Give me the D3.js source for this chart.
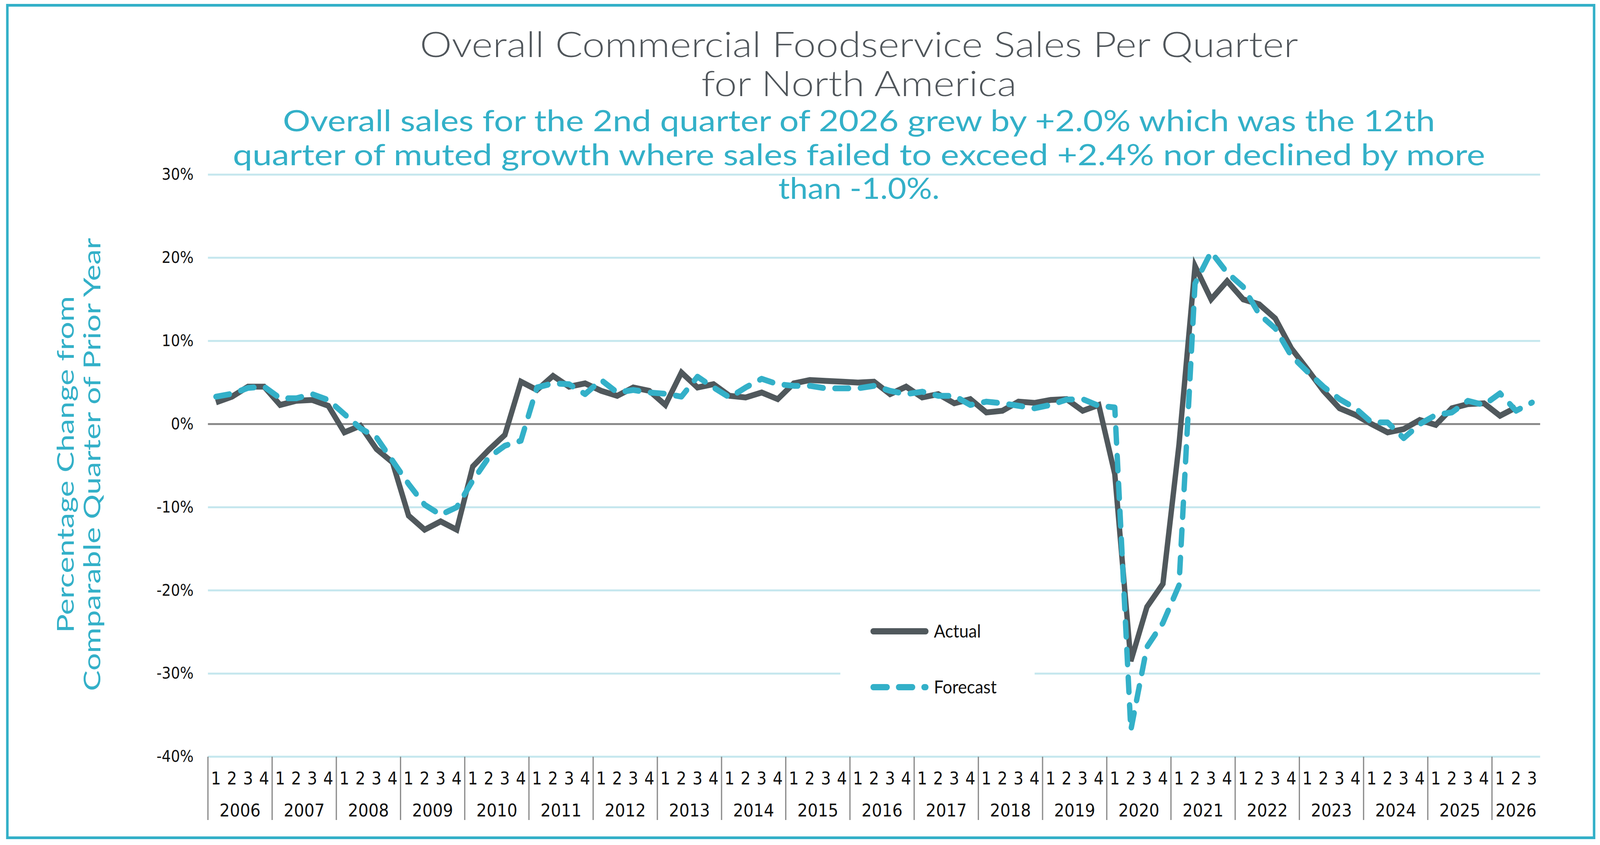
<!DOCTYPE html>
<html>
<head>
<meta charset="utf-8">
<script src="https://cdn.jsdelivr.net/npm/d3@7/dist/d3.min.js"></script>
<style>
  html, body { margin: 0; padding: 0; overflow: hidden; background: #fff; }
  #wrapper { width: 100vw; height: 100vh; }
  svg { display: block; width: 100%; height: 100%; }
</style>
</head>
<body>
<div id="wrapper"></div>
<script>
// Data (% change vs same quarter of prior year)

const years = ["2006", "2007", "2008", "2009", "2010", "2011", "2012", "2013",
  "2014", "2015", "2016", "2017", "2018", "2019", "2020", "2021", "2022",
  "2023", "2024", "2025", "2026"];
const quarterNames = ["1", "2", "3", "4"];
const lastYearQuarters = 3; // 2026 only shows Q1-Q3

const actual = [
  2.6, 3.3, 4.5, 4.5,      // 2006
  2.3, 2.8, 2.9, 2.2,      // 2007
  -1.0, -0.2, -3.0, -4.6,  // 2008
  -11.0, -12.7, -11.7, -12.7, // 2009
  -5.1, -3.1, -1.3, 5.1,   // 2010
  4.1, 5.8, 4.5, 4.9,      // 2011
  4.0, 3.4, 4.4, 4.0,      // 2012
  2.3, 6.2, 4.4, 4.8,      // 2013
  3.4, 3.2, 3.8, 3.0,      // 2014
  4.9, 5.3, 5.2, 5.1,      // 2015
  5.0, 5.1, 3.6, 4.5,      // 2016
  3.2, 3.6, 2.5, 3.0,      // 2017
  1.4, 1.6, 2.7, 2.55,     // 2018
  2.9, 3.0, 1.6, 2.3,      // 2019
  -6.0, -28.5, -22.0, -19.2, // 2020
  -2.5, 19.0, 15.0, 17.2,  // 2021
  15.0, 14.4, 12.7, 9.1,   // 2022
  6.6, 4.0, 1.9, 1.1,      // 2023
  0.0, -1.0, -0.6, 0.5,    // 2024
  -0.1, 1.9, 2.4, 2.5,     // 2025
  1.0, 2.0                 // 2026
];

const forecast = [
  3.3, 3.65, 4.35, 4.5,
  3.1, 3.1, 3.6, 2.9,
  1.2, -0.5, -1.6, -4.4,
  -7.2, -9.7, -10.9, -10.0,
  -6.8, -4.0, -2.6, -2.0,
  4.4, 4.9, 4.8, 3.6,
  5.3, 3.8, 4.1, 3.8,
  3.65, 3.3, 5.7, 4.4,
  3.2, 4.4, 5.45, 4.8,
  4.6, 4.6, 4.3, 4.3,
  4.3, 4.6, 4.0, 3.6,
  3.9, 3.4, 3.4, 2.3,
  2.7, 2.5, 2.2, 1.9,
  2.3, 2.95, 3.0, 2.2,
  2.0, -36.8, -26.8, -23.9,
  -19.4, 16.9, 20.7, 18.2,
  16.5, 13.2, 11.5, 8.2,
  6.3, 4.5, 3.0, 1.9,
  0.2, 0.2, -1.7, 0.0,
  1.1, 1.4, 2.8, 2.3,
  3.7, 1.6, 2.6
];

const yTicks = [30, 20, 10, 0, -10, -20, -30, -40];
const seriesNames = ["Actual", "Forecast"];

const titleLines = [
  "Overall Commercial Foodservice Sales Per Quarter",
  "for North America",
];
const subtitleLines = [
  "Overall sales for the 2nd quarter of 2026 grew by +2.0% which was the 12th",
  "quarter of muted growth where sales failed to exceed +2.4% nor declined by more",
  "than -1.0%.",
];
const yTitleLines = [
  "Percentage Change from",
  "Comparable Quarter of Prior Year",
];

function drawChart() {

  // 1. Categories

  const categories = years.flatMap((year, i) =>
    quarterNames
      .slice(0, i === years.length - 1 ? lastYearQuarters : quarterNames.length)
      .map(q => ({ year, q, key: `${year}-${q}` })));

  // 2. Dimensions (drawn in reference pixels, stretched to the window)

  const dimensions = {
    width: 4463,
    height: 2163,
    margin: { top: 447, right: 167, bottom: 226, left: 580 },
  };
  dimensions.boundedWidth = dimensions.width
    - dimensions.margin.left - dimensions.margin.right;
  dimensions.boundedHeight = dimensions.height
    - dimensions.margin.top - dimensions.margin.bottom;

  const textFont = "Lato, 'Open Sans', sans-serif";
  const numberFont = "'DejaVu Sans', sans-serif";
  const grey = "#50585c";
  const teal = "#33b0c8";

  // 3. Canvas

  const wrapper = d3.select("#wrapper")
    .append("svg")
      .attr("viewBox", `0 0 ${dimensions.width} ${dimensions.height}`)
      .attr("preserveAspectRatio", "none")
      .style("background", "#fff");

  const bounds = wrapper.append("g")
      .attr("transform", `translate(${dimensions.margin.left}, ${dimensions.margin.top})`);

  // 4. Scales

  const xScale = d3.scaleBand()
      .domain(categories.map(d => d.key))
      .range([0, dimensions.boundedWidth]);
  const xCenter = key => xScale(key) + xScale.bandwidth() / 2;

  const yScale = d3.scaleLinear()
      .domain([-40, 30])
      .range([dimensions.boundedHeight, 0]);

  // 5. Peripherals behind the data

  bounds.append("g")
    .selectAll("line")
    .data(yTicks)
    .join("line")
      .attr("x1", 0)
      .attr("x2", dimensions.boundedWidth)
      .attr("y1", d => yScale(d))
      .attr("y2", d => yScale(d))
      .attr("stroke", d => d === 0 ? "#8a8a8a" : "#c5e7ee")
      .attr("stroke-width", 5);

  const yAxis = bounds.append("g")
      .call(d3.axisLeft(yScale)
        .tickValues(yTicks)
        .tickFormat(d => `${d}%`)
        .tickSize(0)
        .tickPadding(40));
  yAxis.select(".domain").remove();
  yAxis.selectAll("text")
      .attr("fill", "#111")
      .style("font-family", numberFont)
      .style("font-size", "40px");

  // year separators and the two label rows
  const xAxis = bounds.append("g")
      .attr("transform", `translate(0, ${dimensions.boundedHeight})`);

  xAxis.selectAll(".year-tick")
    .data(years)
    .join("line")
      .attr("class", "year-tick")
      .attr("x1", d => xScale(`${d}-1`))
      .attr("x2", d => xScale(`${d}-1`))
      .attr("y1", 0)
      .attr("y2", 162)
      .attr("stroke", "#8c8c8c")
      .attr("stroke-width", 3.5);

  xAxis.selectAll(".quarter-label")
    .data(categories)
    .join("text")
      .attr("class", "quarter-label")
      .attr("x", d => xCenter(d.key))
      .attr("y", 71)
      .attr("text-anchor", "middle")
      .attr("fill", "#111")
      .style("font-family", numberFont)
      .style("font-size", "44px")
      .text(d => d.q);

  xAxis.selectAll(".year-label")
    .data(years)
    .join("text")
      .attr("class", "year-label")
      .attr("x", d => {
        const keys = categories.filter(c => c.year === d).map(c => c.key);
        return (xCenter(keys[0]) + xCenter(keys[keys.length - 1])) / 2;
      })
      .attr("y", 153)
      .attr("text-anchor", "middle")
      .attr("fill", "#111")
      .style("font-family", numberFont)
      .style("font-size", "45px")
      .text(d => d);

  // legend sits on a white card that hides the -30% gridline
  const legend = wrapper.append("g");
  legend.append("rect")
      .attr("x", 2344)
      .attr("y", 1545)
      .attr("width", 542)
      .attr("height", 285)
      .attr("fill", "#fff");

  // 6. Data

  const lineGenerator = d3.line()
      .defined(d => d != null)
      .x((d, i) => xCenter(categories[i].key))
      .y(d => yScale(d));

  bounds.append("path")
      .attr("d", lineGenerator(actual))
      .attr("fill", "none")
      .attr("stroke", grey)
      .attr("stroke-width", 15)
      .attr("stroke-linejoin", "miter");

  bounds.append("path")
      .attr("d", lineGenerator(forecast))
      .attr("fill", "none")
      .attr("stroke", teal)
      .attr("stroke-width", 15)
      .attr("stroke-linecap", "round")
      .attr("stroke-linejoin", "round")
      .attr("stroke-dasharray", "38,33");

  // legend entries
  const legendRows = [
    { name: seriesNames[0], y: 1616, color: grey, dash: null },
    { name: seriesNames[1], y: 1759, color: teal, dash: "38,33" },
  ];
  legendRows.forEach(row => {
    legend.append("line")
        .attr("x1", 2436)
        .attr("x2", 2582)
        .attr("y1", row.y)
        .attr("y2", row.y)
        .attr("stroke", row.color)
        .attr("stroke-width", 16)
        .attr("stroke-linecap", "round")
        .attr("stroke-dasharray", row.dash);
    legend.append("text")
        .attr("x", 2605)
        .attr("y", row.y + 16)
        .attr("fill", "#111")
        .style("font-family", textFont)
        .style("font-size", "47px")
        .text(row.name);
  });

  // 7. Titles

  const titleWidths = [2450, 880];
  const titleBaselines = [146, 246];
  titleLines.forEach((line, i) => {
    wrapper.append("text")
        .attr("x", 2396)
        .attr("y", titleBaselines[i])
        .attr("text-anchor", "middle")
        .attr("textLength", titleWidths[i])
        .attr("lengthAdjust", "spacingAndGlyphs")
        .attr("fill", "#50565b")
        .style("font-family", textFont)
        .style("font-weight", 300)
        .style("font-size", "90px")
        .text(line);
  });

  const subtitleWidths = [3214, 3493, 450];
  const subtitleBaselines = [336, 423, 509];
  subtitleLines.forEach((line, i) => {
    wrapper.append("text")
        .attr("x", 2396)
        .attr("y", subtitleBaselines[i])
        .attr("text-anchor", "middle")
        .attr("textLength", subtitleWidths[i])
        .attr("lengthAdjust", "spacingAndGlyphs")
        .attr("fill", teal)
        .style("font-family", textFont)
        .style("font-size", "76px")
        .text(line);
  });

  const yTitleX = [206, 280];
  const yTitleWidths = [862, 1160];
  yTitleLines.forEach((line, i) => {
    wrapper.append("text")
        .attr("transform", `translate(${yTitleX[i]}, 1189) rotate(-90)`)
        .attr("text-anchor", "middle")
        .attr("textLength", yTitleWidths[i])
        .attr("lengthAdjust", "spacingAndGlyphs")
        .attr("fill", teal)
        .style("font-family", textFont)
        .style("font-size", "66px")
        .text(line);
  });

  // frame
  wrapper.append("rect")
      .attr("x", 20.5)
      .attr("y", 13.5)
      .attr("width", 4426)
      .attr("height", 2131)
      .attr("fill", "none")
      .attr("stroke", teal)
      .attr("stroke-width", 7);
}
drawChart();
</script>
</body>
</html>
